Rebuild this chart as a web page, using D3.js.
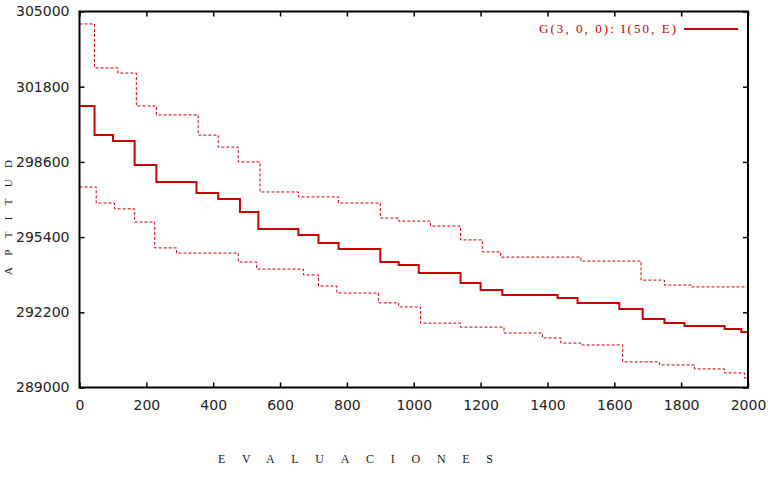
<!DOCTYPE html>
<html>
<head>
<meta charset="utf-8">
<script src="https://cdn.jsdelivr.net/npm/d3@7"></script>
<style>
  body { margin: 0; background: #fff; }
  svg { display: block; }
</style>
</head>
<body>
<svg id="chart" width="768" height="478"></svg>
<script>
// step data: [evaluaciones, aptitud], value holds until next point
const mean = [
  [0, 300980], [45, 299740], [100, 299490], [165, 298470], [230, 297740],
  [350, 297280], [415, 297020], [480, 296470], [535, 295740], [655, 295490],
  [715, 295150], [775, 294890], [900, 294340], [955, 294210], [1015, 293870],
  [1140, 293450], [1200, 293150], [1265, 292940], [1430, 292810], [1490, 292600],
  [1615, 292340], [1685, 291910], [1750, 291740], [1810, 291620], [1930, 291490],
  [1980, 291360], [2000, 291360]
]
const upper = [
  [0, 304470], [45, 302600], [115, 302380], [170, 300980], [230, 300600],
  [355, 299740], [415, 299230], [475, 298600], [540, 297320], [655, 297110],
  [775, 296850], [900, 296210], [955, 296080], [1050, 295870], [1140, 295280],
  [1205, 294770], [1260, 294550], [1500, 294380], [1680, 293570], [1750, 293360],
  [1830, 293280], [2000, 293280]
]
const lower = [
  [0, 297530], [50, 296850], [105, 296600], [165, 296040], [225, 294940],
  [290, 294720], [475, 294340], [530, 294040], [670, 293790], [715, 293320],
  [770, 293020], [895, 292600], [955, 292430], [1020, 291740], [1140, 291570],
  [1270, 291320], [1385, 291110], [1440, 290890], [1500, 290810], [1625, 290090],
  [1735, 289960], [1840, 289790], [1930, 289620], [1990, 289400], [2000, 289400]
]
const xTicks = [0, 200, 400, 600, 800, 1000, 1200, 1400, 1600, 1800, 2000]
const yTicks = [289000, 292200, 295400, 298600, 301800, 305000]
const legendLabel = 'G(3, 0, 0): I(50, E)'

const red = '#c80000'
const m = { left: 79.5, right: 748, top: 11.5, bottom: 387.5 }

const svg = d3.select('#chart')
const x = d3.scaleLinear().domain([0, 2000]).range([m.left, m.right])
const y = d3.scaleLinear().domain([289000, 305000]).range([m.bottom, m.top])

const line = d3.line()
  .x(d => x(d[0]))
  .y(d => y(d[1]))
  .curve(d3.curveStepAfter)

svg.append('path').datum(upper)
  .attr('d', line).attr('fill', 'none')
  .attr('stroke', red).attr('stroke-width', 1).attr('stroke-dasharray', '3,2')
svg.append('path').datum(lower)
  .attr('d', line).attr('fill', 'none')
  .attr('stroke', red).attr('stroke-width', 1).attr('stroke-dasharray', '3,2')
svg.append('path').datum(mean)
  .attr('d', line).attr('fill', 'none')
  .attr('stroke', red).attr('stroke-width', 2)

// axes with inward ticks on all four sides
const fontAxis = '"DejaVu Sans", sans-serif'
const bottomAxis = d3.axisBottom(x).tickValues(xTicks).tickSize(-5).tickPadding(13).tickFormat(d3.format('d'))
const topAxis = d3.axisTop(x).tickValues(xTicks).tickSize(-5).tickFormat('')
const leftAxis = d3.axisLeft(y).tickValues(yTicks).tickSize(-5).tickPadding(10).tickFormat(d3.format('d'))
const rightAxis = d3.axisRight(y).tickValues(yTicks).tickSize(-5).tickFormat('')

const gB = svg.append('g').attr('transform', `translate(0,${m.bottom})`).call(bottomAxis)
svg.append('g').attr('transform', `translate(0,${m.top})`).call(topAxis)
const gL = svg.append('g').attr('transform', `translate(${m.left},0)`).call(leftAxis)
svg.append('g').attr('transform', `translate(${m.right},0)`).call(rightAxis)

svg.selectAll('.domain').remove()
svg.selectAll('.tick line').attr('stroke', '#000').attr('stroke-width', 1.5)
gB.selectAll('text').attr('font-family', fontAxis).attr('font-size', 14).attr('fill', '#222')
gL.selectAll('text').attr('font-family', fontAxis).attr('font-size', 14).attr('fill', '#222')

svg.append('rect')
  .attr('x', m.left).attr('y', m.top)
  .attr('width', m.right - m.left).attr('height', m.bottom - m.top)
  .attr('fill', 'none').attr('stroke', '#000').attr('stroke-width', 2)

// axis titles
const serif = '"Liberation Serif", "DejaVu Serif", serif'
svg.append('text')
  .attr('x', 218).attr('y', 463)
  .attr('font-family', serif).attr('font-size', 12).attr('fill', '#222')
  .attr('textLength', 275).attr('lengthAdjust', 'spacing')
  .text('EVALUACIONES')

svg.append('text')
  .attr('transform', 'translate(12,275) rotate(-90)')
  .attr('font-family', serif).attr('font-size', 11).attr('fill', '#222')
  .attr('textLength', 115).attr('lengthAdjust', 'spacing')
  .text('APTITUD')

// legend
svg.append('text')
  .attr('x', 676).attr('y', 33).attr('text-anchor', 'end')
  .attr('font-family', serif).attr('font-size', 13).attr('fill', red)
  .attr('textLength', 137).attr('lengthAdjust', 'spacing')
  .text(legendLabel)
svg.append('line')
  .attr('x1', 684).attr('x2', 738).attr('y1', 29).attr('y2', 29)
  .attr('stroke', red).attr('stroke-width', 2)
</script>
</body>
</html>
